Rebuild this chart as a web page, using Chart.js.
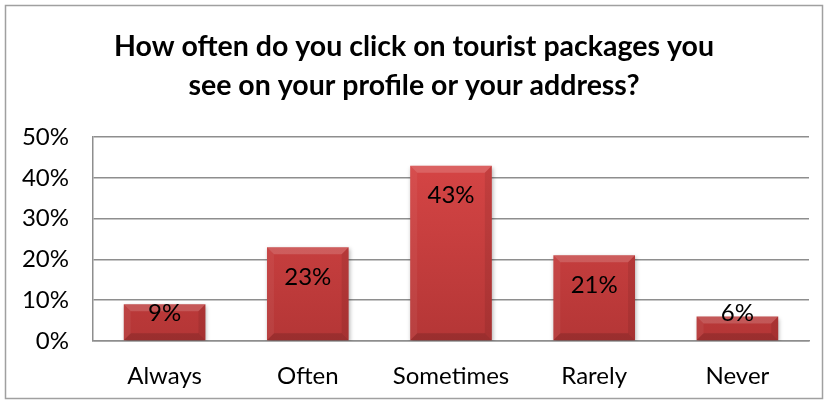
<!DOCTYPE html>
<html>
<head>
<meta charset="utf-8">
<script src="https://cdn.jsdelivr.net/npm/chart.js@4/dist/chart.umd.min.js"></script>
<style>
  html, body { margin: 0; padding: 0; background: #fff; }
  #wrap { width: 828px; height: 404px; position: relative; }
</style>
</head>
<body>
<div id="wrap"><canvas id="grafico" width="828" height="404"></canvas></div>
<script>
// dados do grafico
const CATEGORIAS = ['Always', 'Often', 'Sometimes', 'Rarely', 'Never']
const VALORES = [9, 23, 43, 21, 6]
const TICKS_Y = [0, 10, 20, 30, 40, 50]
const TITULO = ['How often do you click on tourist packages you', 'see on your profile or your address?']

const FONTE = 'Lato, "Open Sans", sans-serif'

// moldura em volta do grafico
const moldura = {
    id: 'moldura',
    beforeDraw(chart) {
        let ctx = chart.ctx
        ctx.save()
        ctx.fillStyle = '#fff'
        ctx.fillRect(0, 0, chart.width, chart.height)
        ctx.strokeStyle = '#a0a0a0'
        ctx.lineWidth = 1.5
        ctx.strokeRect(5.5, 5.5, chart.width - 11, chart.height - 11)
        ctx.restore()
    }
}

// sombra das barras
const sombra = {
    id: 'sombra',
    beforeDatasetsDraw(chart) {
        let ctx = chart.ctx
        ctx.save()
        ctx.shadowColor = 'rgba(0,0,0,0.3)'
        ctx.shadowBlur = 4
        ctx.shadowOffsetX = 1
        ctx.shadowOffsetY = 2
    },
    afterDatasetsDraw(chart) {
        chart.ctx.restore()
    }
}

// chanfro nas bordas de cada barra + rotulos
const chanfro = {
    id: 'chanfro',
    afterDatasetsDraw(chart) {
        let ctx = chart.ctx
        let meta = chart.getDatasetMeta(0)
        meta.data.forEach((bar, i) => {
            let p = bar.getProps(['x', 'y', 'base', 'width'], true)
            let l = p.x - p.width / 2, r = p.x + p.width / 2
            let t = p.y, b = p.base
            let h = b - t
            let d = Math.min(7, h / 3)
            ctx.save()
            // topo claro
            ctx.fillStyle = 'rgba(255,255,255,0.16)'
            ctx.beginPath()
            ctx.moveTo(l, t); ctx.lineTo(r, t); ctx.lineTo(r - d, t + d); ctx.lineTo(l + d, t + d)
            ctx.closePath(); ctx.fill()
            // lado esquerdo
            ctx.fillStyle = 'rgba(255,255,255,0.05)'
            ctx.beginPath()
            ctx.moveTo(l, t); ctx.lineTo(l + d, t + d); ctx.lineTo(l + d, b - d); ctx.lineTo(l, b)
            ctx.closePath(); ctx.fill()
            // lado direito
            ctx.fillStyle = 'rgba(0,0,0,0.08)'
            ctx.beginPath()
            ctx.moveTo(r, t); ctx.lineTo(r - d, t + d); ctx.lineTo(r - d, b - d); ctx.lineTo(r, b)
            ctx.closePath(); ctx.fill()
            // base escura
            ctx.fillStyle = 'rgba(0,0,0,0.14)'
            ctx.beginPath()
            ctx.moveTo(l, b); ctx.lineTo(r, b); ctx.lineTo(r - d, b - d); ctx.lineTo(l + d, b - d)
            ctx.closePath(); ctx.fill()

            // rotulo com o valor
            let valor = chart.data.datasets[0].data[i]
            let cy = Math.min(t + 30, b - 27)
            ctx.fillStyle = '#000'
            ctx.font = '24px ' + FONTE
            ctx.textAlign = 'center'
            ctx.textBaseline = 'middle'
            ctx.fillText(valor + '%', p.x, cy)
            ctx.restore()
        })
    }
}

function gradienteBarra(context) {
    let chart = context.chart
    let area = chart.chartArea
    if (!area) return '#c43c3c'
    let g = chart.ctx.createLinearGradient(0, area.top, 0, area.bottom)
    g.addColorStop(0, '#da4747')
    g.addColorStop(1, '#b43636')
    return g
}

var ctx = document.getElementById('grafico').getContext('2d')
var grafico = new Chart(ctx, {
    type: 'bar',
    data: {
        labels: CATEGORIAS,
        datasets: [{
            data: VALORES,
            backgroundColor: gradienteBarra,
            borderWidth: 0,
            barPercentage: 0.57,
            categoryPercentage: 1
        }]
    },
    options: {
        responsive: false,
        animation: false,
        layout: { padding: { left: 19, right: 19, top: 0, bottom: 15 } },
        plugins: {
            legend: { display: false },
            tooltip: { enabled: false },
            title: {
                display: true,
                text: TITULO,
                color: '#000',
                font: { family: FONTE, size: 28.5, weight: 'bold', lineHeight: 1.37 },
                padding: { top: 27.5, bottom: 31.5 }
            }
        },
        scales: {
            x: {
                afterFit(scale) { scale.height = 48 },
                grid: { display: false, drawTicks: false },
                border: { display: true, color: '#8e8e8e', width: 1.5 },
                ticks: { color: '#000', font: { family: FONTE, size: 24 }, padding: 21 }
            },
            y: {
                min: 0,
                max: 50,
                afterFit(scale) { scale.width = 74 },
                afterBuildTicks(scale) { scale.ticks = TICKS_Y.map(v => ({ value: v })) },
                grid: { color: '#8e8e8e', lineWidth: 1.5, drawTicks: false },
                border: { display: true, color: '#8e8e8e', width: 1.5 },
                ticks: {
                    color: '#000',
                    font: { family: FONTE, size: 24 },
                    padding: 24,
                    callback: v => v + '%'
                }
            }
        }
    },
    plugins: [moldura, sombra, chanfro]
})
</script>
</body>
</html>
